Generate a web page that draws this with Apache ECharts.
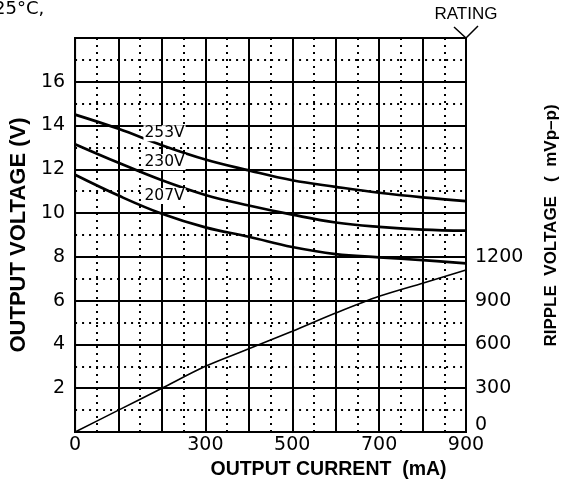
<!DOCTYPE html>
<html>
<head>
<meta charset="utf-8"/>
<script src="https://cdn.jsdelivr.net/npm/echarts@6/dist/echarts.min.js"></script>
<style>
  html, body { margin: 0; padding: 0; background: #fff; }
  #main { width: 568px; height: 485px; }
</style>
</head>
<body>
<div id="main"></div>
<script type="text/javascript">
// output current (mA)
var currents = [0, 100, 200, 300, 400, 500, 600, 700, 800, 900];
// output voltage (V) for each input voltage
var v253 = [14.5, 13.85, 13.1, 12.45, 11.95, 11.5, 11.2, 10.93, 10.72, 10.55];
var v230 = [13.15, 12.3, 11.5, 10.83, 10.35, 9.93, 9.57, 9.37, 9.25, 9.2];
var v207 = [11.75, 10.8, 9.97, 9.35, 8.92, 8.45, 8.13, 7.98, 7.85, 7.7];
// ripple voltage (mVp-p)
var ripple = [0, 150, 300, 450, 570, 690, 815, 930, 1020, 1110];
// tick labels shown
var xLabels = [0, 300, 500, 700, 900];
var yLabels = [2, 4, 6, 8, 10, 12, 14, 16];
var rippleLabels = [0, 300, 600, 900, 1200];
// curve names
var curveNames = ['253V', '230V', '207V'];

function pairs(ys) {
  return currents.map(function (c, i) { return [c, ys[i]]; });
}

var dotted = { color: '#000', width: 2, type: [2, 5] };
var solid = { color: '#000', width: 2 };
var tickFont = { color: '#000', fontFamily: 'DejaVu Sans', fontSize: 19 };

function curveLabel(name, x, y) {
  return {
    symbol: 'circle',
    symbolSize: 1,
    itemStyle: { color: 'rgba(0,0,0,0)' },
    label: {
      show: true,
      position: 'inside',
      formatter: name,
      color: '#000',
      fontFamily: 'DejaVu Sans',
      fontSize: 15.5,
      backgroundColor: '#fff',
      padding: [0, 1]
    },
    data: [{ coord: [x, y] }]
  };
}

var myChart = echarts.init(document.getElementById('main'));

var options = {
  animation: false,
  backgroundColor: '#fff',
  title: {
    text: '25°C,',
    left: -6,
    top: 0,
    padding: 0,
    textStyle: { fontFamily: 'DejaVu Sans', fontSize: 18, fontWeight: 'normal', color: '#000' }
  },
  grid: {
    left: 74, right: 99, top: 38, bottom: 53,
    show: true, borderColor: '#000', borderWidth: 2
  },
  xAxis: {
    type: 'value',
    min: 0, max: 900, interval: 100,
    name: 'OUTPUT CURRENT  (mA)',
    nameLocation: 'middle',
    nameGap: 28,
    nameTextStyle: { fontFamily: 'Liberation Sans', fontWeight: 'bold', fontSize: 19.5, color: '#000', padding: [0, 0, 0, 116] },
    axisLine: { show: true, lineStyle: solid },
    axisTick: { show: false },
    axisLabel: Object.assign({
      margin: 4,
      formatter: function (v) { return xLabels.indexOf(v) >= 0 ? String(v) : ''; }
    }, tickFont),
    splitLine: { show: true, lineStyle: solid },
    minorTick: { show: false, splitNumber: 2 },
    minorSplitLine: { show: true, lineStyle: dotted }
  },
  yAxis: [{
    type: 'value',
    min: 0, max: 18, interval: 2,
    name: 'OUTPUT VOLTAGE (V)',
    nameLocation: 'middle',
    nameRotate: 90,
    nameGap: 39,
    nameTextStyle: { fontFamily: 'Liberation Sans', fontWeight: 'bold', fontSize: 22, color: '#000' },
    axisLine: { show: true, lineStyle: solid },
    axisTick: { show: false },
    axisLabel: Object.assign({
      margin: 10,
      formatter: function (v) { return yLabels.indexOf(v) >= 0 ? String(v) : ''; }
    }, tickFont),
    splitLine: { show: true, lineStyle: solid },
    minorTick: { show: false, splitNumber: 2 },
    minorSplitLine: { show: true, lineStyle: dotted }
  }, {
    type: 'value',
    position: 'right',
    min: 0, max: 2700, interval: 300,
    name: 'RIPPLE  VOLTAGE   (  mVp\u2013p)',
    nameLocation: 'middle',
    nameRotate: 90,
    nameGap: 77,
    nameTextStyle: { fontFamily: 'Liberation Sans', fontWeight: 'bold', fontSize: 17, color: '#000', padding: [0, 0, 0, 19] },
    axisLine: { show: true, lineStyle: solid },
    axisTick: { show: false },
    splitLine: { show: false },
    axisLabel: Object.assign({
      margin: 9,
      formatter: function (v) {
        if (v === 0) return '{z|0}';
        return rippleLabels.indexOf(v) >= 0 ? String(v) : '';
      },
      rich: { z: { fontFamily: 'DejaVu Sans', fontSize: 19, color: '#000', padding: [0, 0, 14, 0] } }
    }, tickFont)
  }],
  series: [{
    name: curveNames[0],
    type: 'line',
    data: pairs(v253),
    smooth: 0.4,
    symbol: 'none',
    lineStyle: { color: '#000', width: 2.7 },
    markPoint: curveLabel(curveNames[0], 206, 13.65),
    z: 3
  }, {
    name: curveNames[1],
    type: 'line',
    data: pairs(v230),
    smooth: 0.4,
    symbol: 'none',
    lineStyle: { color: '#000', width: 2.7 },
    markPoint: curveLabel(curveNames[1], 206, 12.33),
    z: 3
  }, {
    name: curveNames[2],
    type: 'line',
    data: pairs(v207),
    smooth: 0.4,
    symbol: 'none',
    lineStyle: { color: '#000', width: 2.7 },
    markPoint: curveLabel(curveNames[2], 206, 10.78),
    z: 3
  }, {
    name: 'ripple',
    type: 'line',
    yAxisIndex: 1,
    data: pairs(ripple),
    smooth: 0.3,
    symbol: 'none',
    lineStyle: { color: '#000', width: 1.6 },
    z: 3
  }]
};

myChart.setOption(options);

// RATING marker at the top right corner of the plot
var p = myChart.convertToPixel({ gridIndex: 0 }, [900, 18]);
myChart.setOption({
  graphic: [{
    type: 'polyline',
    shape: { points: [[p[0] - 12, p[1] - 11], [p[0], p[1]], [p[0] + 12, p[1] - 12]] },
    style: { stroke: '#000', lineWidth: 1.5, fill: null }
  }, {
    type: 'text',
    x: p[0],
    y: p[1] - 24,
    style: {
      text: 'RATING',
      fill: '#000',
      font: '17px "Liberation Sans"',
      align: 'center',
      verticalAlign: 'middle'
    }
  }]
});
</script>
</body>
</html>
